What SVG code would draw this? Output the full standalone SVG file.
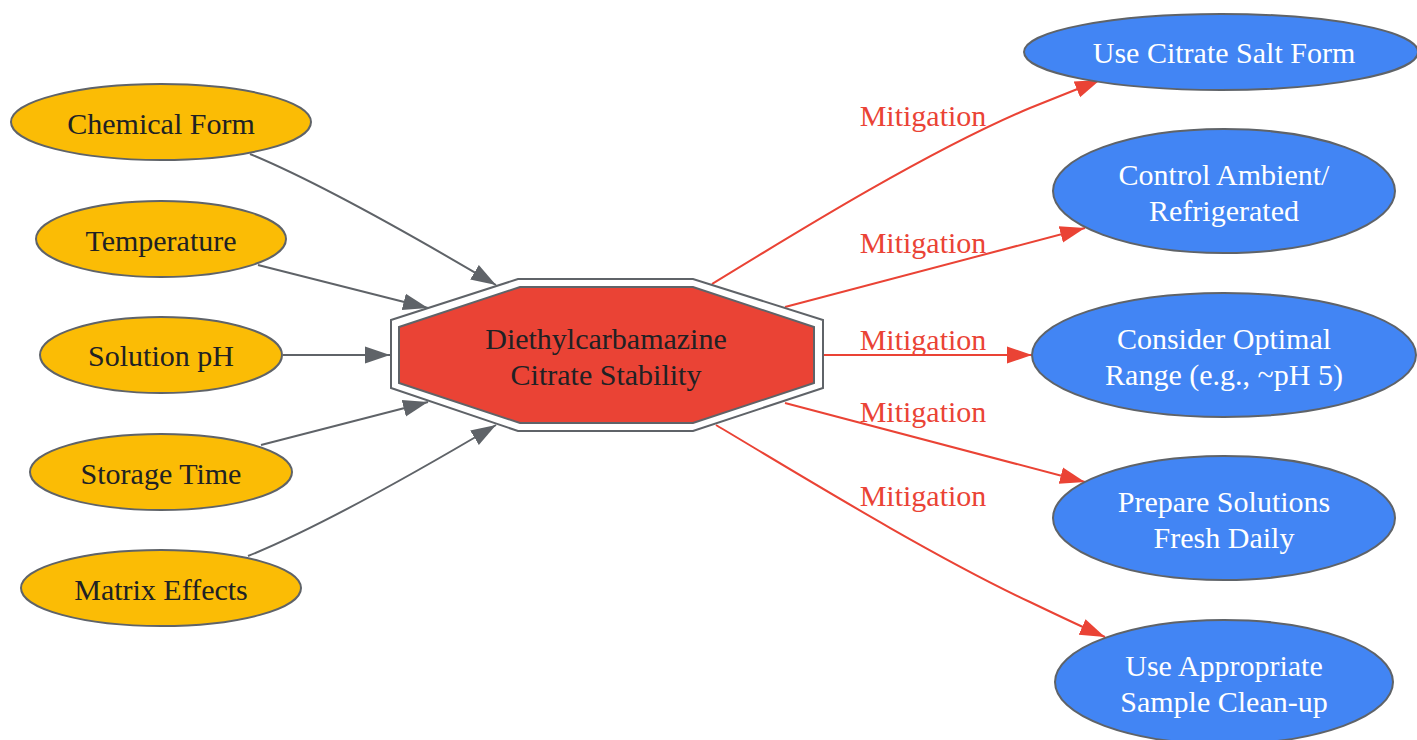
<svg xmlns="http://www.w3.org/2000/svg" width="1417" height="740" viewBox="0 0 1417 740">
<style>
text{font-family:"Liberation Serif","Times New Roman",serif;font-size:30px;text-anchor:middle}
.y ellipse{fill:#FBBC05;stroke:#5F6368;stroke-width:2}
.y text{fill:#202124}
.b ellipse{fill:#4285F4;stroke:#5F6368;stroke-width:2}
.b text{fill:#FFFFFF}
.g{fill:none;stroke:#5F6368;stroke-width:2}
.r{fill:none;stroke:#EA4335;stroke-width:2}
.lbl{fill:#EA4335}
</style>
<defs>
<marker id="ag" viewBox="0 0 10 10" refX="10" refY="5" markerWidth="25" markerHeight="25" markerUnits="userSpaceOnUse" orient="auto"><path d="M0,1.6 L10,5 L0,8.4 Z" fill="#5F6368"/></marker>
<marker id="ar" viewBox="0 0 10 10" refX="10" refY="5" markerWidth="25" markerHeight="25" markerUnits="userSpaceOnUse" orient="auto"><path d="M0,1.6 L10,5 L0,8.4 Z" fill="#EA4335"/></marker>
</defs>
<rect width="1417" height="740" fill="#FFFFFF"/>
<g id="connectors">
<path class="g" d="M250,154 C320,183 420,240 496,285" marker-end="url(#ag)"/>
<path class="g" d="M258,265 L428,308" marker-end="url(#ag)"/>
<path class="g" d="M283,355 L390,355" marker-end="url(#ag)"/>
<path class="g" d="M261,445 L428,402" marker-end="url(#ag)"/>
<path class="g" d="M248,556 C320,527 420,470 496,425" marker-end="url(#ag)"/>
<path class="r" d="M712,284 C800,230 930,150 1030,108 C1055,98 1078,89 1100,80" marker-end="url(#ar)"/>
<path class="r" d="M785,307 L1085,228" marker-end="url(#ar)"/>
<path class="r" d="M823,355 L1032,355" marker-end="url(#ar)"/>
<path class="r" d="M785,403 L1085,482" marker-end="url(#ar)"/>
<path class="r" d="M716,425 C800,475 930,555 1030,602 C1055,614 1080,626 1105,637" marker-end="url(#ar)"/>
<text class="lbl" x="923" y="126">Mitigation</text>
<text class="lbl" x="923" y="253">Mitigation</text>
<text class="lbl" x="923" y="350">Mitigation</text>
<text class="lbl" x="923" y="422">Mitigation</text>
<text class="lbl" x="923" y="506">Mitigation</text>
</g>
<g id="center">
<polygon points="391,320 518,279 693,279 823,320 823,388 693,431 518,431 391,388" fill="#FFFFFF" stroke="#5F6368" stroke-width="2"/>
<polygon points="399,327 520,287 693,287 814,327 814,383 693,423 520,423 399,383" fill="#EA4335" stroke="#5F6368" stroke-width="2"/>
<text x="606" y="349" fill="#202124">Diethylcarbamazine</text>
<text x="606" y="385" fill="#202124">Citrate Stability</text>
</g>
<g id="chemical-form" class="y"><ellipse cx="161" cy="122" rx="150" ry="38"/><text x="161" y="134">Chemical Form</text></g>
<g id="temperature" class="y"><ellipse cx="161" cy="239" rx="125" ry="38"/><text x="161" y="251">Temperature</text></g>
<g id="solution-ph" class="y"><ellipse cx="161" cy="355" rx="121" ry="38"/><text x="161" y="366">Solution pH</text></g>
<g id="storage-time" class="y"><ellipse cx="161" cy="472" rx="131" ry="38"/><text x="161" y="484">Storage Time</text></g>
<g id="matrix-effects" class="y"><ellipse cx="161" cy="588" rx="140" ry="38"/><text x="161" y="600">Matrix Effects</text></g>
<g id="citrate-salt" class="b"><ellipse cx="1221" cy="52" rx="197" ry="38"/><text x="1224" y="63">Use Citrate Salt Form</text></g>
<g id="control-ambient" class="b"><ellipse cx="1224" cy="191" rx="171" ry="62"/><text x="1224" y="185">Control Ambient/</text><text x="1224" y="221">Refrigerated</text></g>
<g id="optimal-range" class="b"><ellipse cx="1224" cy="355" rx="192" ry="62"/><text x="1224" y="349">Consider Optimal</text><text x="1224" y="385">Range (e.g., ~pH 5)</text></g>
<g id="prepare-fresh" class="b"><ellipse cx="1224" cy="518" rx="171" ry="62"/><text x="1224" y="512">Prepare Solutions</text><text x="1224" y="548">Fresh Daily</text></g>
<g id="sample-cleanup" class="b"><ellipse cx="1224" cy="682" rx="169" ry="62"/><text x="1224" y="676">Use Appropriate</text><text x="1224" y="712">Sample Clean-up</text></g>
</svg>
